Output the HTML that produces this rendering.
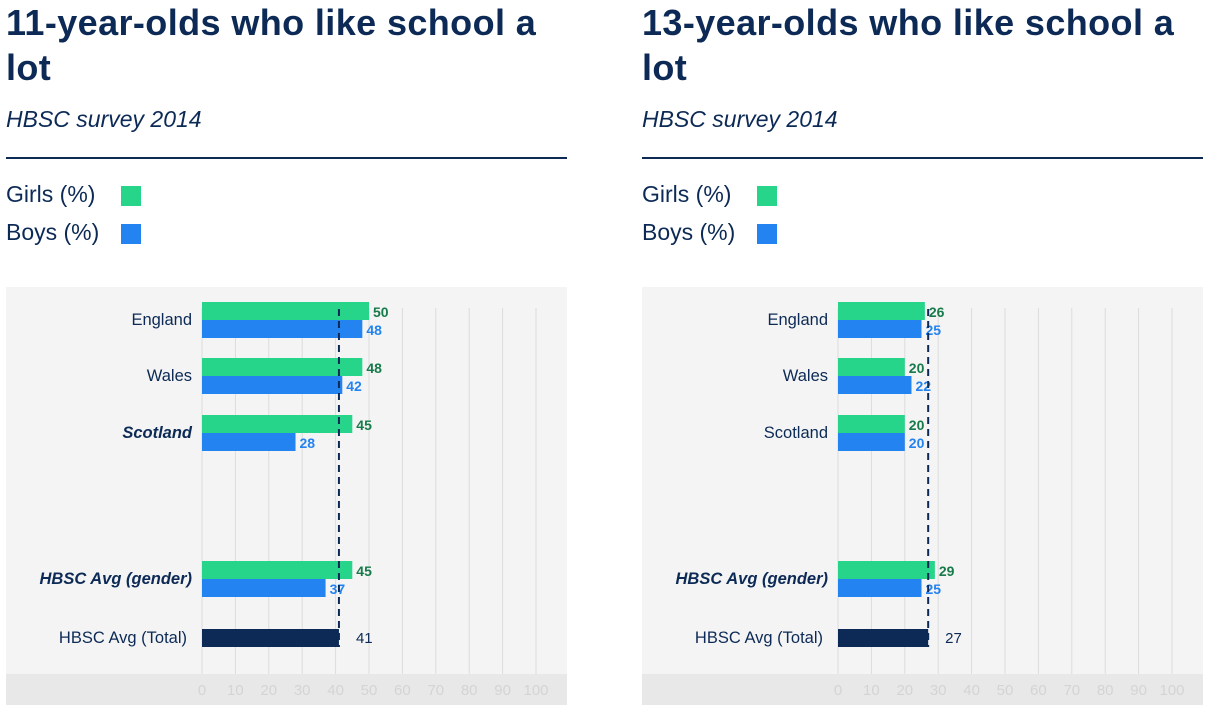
<!DOCTYPE html>
<html><head><meta charset="utf-8">
<style>
body{margin:0;background:#fff;width:1224px;height:718px;overflow:hidden;font-family:"Liberation Sans",sans-serif;}
.panel{position:absolute;top:0;width:562px;height:718px;}
.title{position:absolute;left:0;top:0px;margin:0;font-size:36px;letter-spacing:0.4px;line-height:45px;font-weight:bold;color:#0c2a55;width:535px;}
.sub{position:absolute;left:0;top:106px;font-size:23px;font-style:italic;color:#0c2a55;}
.rule{position:absolute;left:0;top:157px;width:561px;height:2px;background:#0c2a55;}
.leg{position:absolute;left:0;font-size:23px;color:#0c2a55;}
.sw{position:absolute;width:20px;height:20px;left:115px;}
svg{position:absolute;left:0;top:287px;}
</style></head><body>
<div class="panel" id="p1" style="left:6px">
<h1 class="title">11-year-olds who like school a lot</h1>
<div class="sub">HBSC survey 2014</div>
<div class="rule"></div>
<div class="leg" style="top:181px">Girls (%)</div>
<div class="sw" style="top:186px;background:#26d48a"></div>
<div class="leg" style="top:219px">Boys (%)</div>
<div class="sw" style="top:224px;background:#2383f0"></div>
<svg width="562" height="418"></svg>
</div>
<div class="panel" id="p2" style="left:642px">
<h1 class="title">13-year-olds who like school a lot</h1>
<div class="sub">HBSC survey 2014</div>
<div class="rule"></div>
<div class="leg" style="top:181px">Girls (%)</div>
<div class="sw" style="top:186px;background:#26d48a"></div>
<div class="leg" style="top:219px">Boys (%)</div>
<div class="sw" style="top:224px;background:#2383f0"></div>
<svg width="562" height="418"></svg>
</div>
<script>
const categories = ["England","Wales","Scotland"];
const girls11 = [50,48,45];
const boys11 = [48,42,28];
const avgGirls11 = 45, avgBoys11 = 37, total11 = 41;
const girls13 = [26,20,20];
const boys13 = [25,22,20];
const avgGirls13 = 29, avgBoys13 = 25, total13 = 27;
const ticks = [0,10,20,30,40,50,60,70,80,90,100];

const NS="http://www.w3.org/2000/svg";
function mk(svg,tag,attrs,text){const e=document.createElementNS(NS,tag);for(const k in attrs)e.setAttribute(k,attrs[k]);if(text!==undefined)e.textContent=text;svg.appendChild(e);return e;}
function draw(svg,girls,boys,ag,ab,tot,boldIdx){
  const x=v=>196+v*3.34;
  const rowY=[33,89,146];
  const gY=292, tY=351;
  let e=mk(svg,'rect',{x:0,y:0,width:561,height:418,fill:'#f4f4f4'});
  
  e=mk(svg,'rect',{x:0,y:387,width:561,height:31,fill:'#e8e8e8'});
  
  ticks.forEach(t=>{
    let g=mk(svg,'line',{x1:x(t),x2:x(t),y1:21,y2:387,stroke:'#dcdcde','stroke-width':1});
    
    let l=mk(svg,'text',{x:x(t),y:408,'text-anchor':'middle','font-size':15,fill:'#d4d4d4'},t);
    
  });
  function pair(cy,gv,bv,label,bold){
    let r=mk(svg,'rect',{x:x(0),y:cy-18,width:x(gv)-x(0),height:18,fill:'#26d48a'});
    
    r=mk(svg,'rect',{x:x(0),y:cy,width:x(bv)-x(0),height:18,fill:'#2383f0'});
    
    let t=mk(svg,'text',{x:x(gv)+4,y:cy-3,'font-size':14,'font-weight':'bold',fill:'#177a4a'},gv);
    
    t=mk(svg,'text',{x:x(bv)+4,y:cy+15,'font-size':14,'font-weight':'bold',fill:'#2383f0'},bv);
    
    t=mk(svg,'text',{x:186,y:cy+5,'text-anchor':'end','font-size':16.5,fill:'#0c2a55','font-weight':bold?'bold':'normal','font-style':bold?'italic':'normal'},label);
    
  }
  categories.forEach((c,i)=>pair(rowY[i],girls[i],boys[i],c,i===boldIdx));
  pair(gY,ag,ab,'HBSC Avg (gender)',true);
  let r=mk(svg,'rect',{x:x(0),y:tY-9,width:x(tot)-x(0),height:18,fill:'#0c2a55'});
  
  let t=mk(svg,'text',{x:x(tot)+17,y:tY+5,'font-size':15,fill:'#0c2a55'},tot);
  
  t=mk(svg,'text',{x:181,y:tY+5,'text-anchor':'end','font-size':16.5,fill:'#0c2a55'},'HBSC Avg (Total)');
  
  let d=mk(svg,'line',{x1:x(tot),x2:x(tot),y1:22,y2:tY+9,stroke:'#0c2a55','stroke-width':2,'stroke-dasharray':'7,5'});
  
}
const svgs=document.querySelectorAll('svg');
draw(svgs[0],girls11,boys11,avgGirls11,avgBoys11,total11,2);
draw(svgs[1],girls13,boys13,avgGirls13,avgBoys13,total13,-1);
</script>
</body></html>
